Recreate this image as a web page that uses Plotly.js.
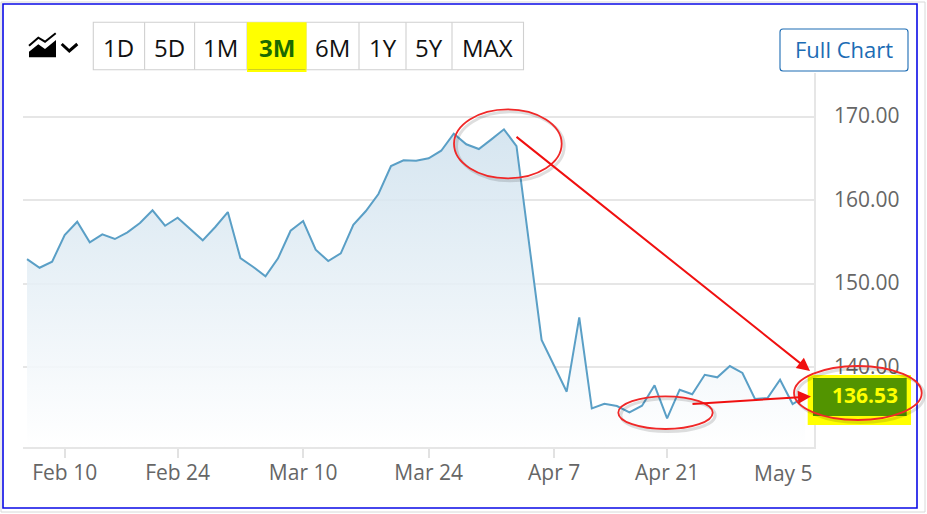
<!DOCTYPE html>
<html>
<head>
<meta charset="utf-8">
<script src="https://cdn.plot.ly/plotly-3.0.1.min.js"></script>
<style>html,body{margin:0;padding:0;background:#fff}#chart{width:927px;height:514px}</style>
</head>
<body>
<div id="chart"></div>
<script>
const dates = ["Feb 5","Feb 6","Feb 7","Feb 10","Feb 11","Feb 12","Feb 13","Feb 14","Feb 18","Feb 19","Feb 20","Feb 21","Feb 24","Feb 25","Feb 26","Feb 27","Feb 28","Mar 3","Mar 4","Mar 5","Mar 6","Mar 7","Mar 10","Mar 11","Mar 12","Mar 13","Mar 14","Mar 17","Mar 18","Mar 19","Mar 20","Mar 21","Mar 24","Mar 25","Mar 26","Mar 27","Mar 28","Mar 31","Apr 1","Apr 2","Apr 3","Apr 4","Apr 7","Apr 8","Apr 9","Apr 10","Apr 11","Apr 14","Apr 15","Apr 16","Apr 17","Apr 21","Apr 22","Apr 23","Apr 24","Apr 25","Apr 28","Apr 29","Apr 30","May 1","May 2","May 5","May 6"];
const prices = [152.96,151.92,152.64,155.84,157.43,154.96,155.92,155.36,156.16,157.27,158.79,156.95,157.91,156.52,155.20,156.80,158.59,153.08,152.04,150.89,153.05,156.35,157.51,154.08,152.72,153.65,157.07,158.71,160.75,164.10,164.78,164.73,165.02,165.93,167.96,166.70,166.13,167.29,168.49,166.49,154.88,143.27,140.18,137.08,145.98,135.09,135.64,135.37,134.61,135.40,137.84,133.89,137.32,136.77,139.11,138.80,140.15,139.32,136.20,136.32,138.51,135.60,136.53];
const xTicks = ["Feb 10","Feb 24","Mar 10","Mar 24","Apr 7","Apr 21"];
const yTicks = [140,150,160,170];
const lastLabel = "136.53";
const rangeButtons = ["1D","5D","1M","3M","6M","1Y","5Y","MAX"];
const activeButton = "3M";

const W = 927, H = 514;
const px = x => x / W, py = y => 1 - y / H;
const buttonEdges = [93.3,144.6,194.6,247,306,359,406,452,523.5];
const FONT = '"Open Sans", sans-serif';
const paper = {xref:'paper', yref:'paper'};

function rect(x0,y0,x1,y1,extra){ return Object.assign({type:'rect',x0:px(x0),x1:px(x1),y0:py(y1),y1:py(y0),layer:'above'},paper,extra); }
function ell(x0,y0,x1,y1,extra){ return Object.assign({type:'circle',x0:px(x0),x1:px(x1),y0:py(y1),y1:py(y0),layer:'above'},paper,extra); }
function poly(pts,close,extra){
  const d = pts.map((p,i)=>(i?'L':'M')+px(p[0]).toFixed(5)+','+py(p[1]).toFixed(5)).join(' ')+(close?' Z':'');
  return Object.assign({type:'path',path:d,layer:'above'},paper,extra);
}
function label(x,y,text,size,color,extra){
  return Object.assign({x:px(x),y:py(y),text:text,showarrow:false,xanchor:'center',yanchor:'middle',
    font:{family:FONT,size:size,color:color}},paper,extra);
}
function arrow(x0,y0,x1,y1){
  return Object.assign({x:px(x1),y:py(y1),ax:x0-x1,ay:y0-y1,text:'',showarrow:true,arrowhead:2,arrowsize:1.3,arrowwidth:2,arrowcolor:'#f01010'},paper);
}

const shapes = [
  // outer frame
  rect(1,2,925,512,{line:{color:'#d8d8d8',width:1},fillcolor:'rgba(0,0,0,0)',layer:'below'}),
  rect(3,4,917,508,{line:{color:'#0a0ae6',width:1.6},fillcolor:'#ffffff',layer:'below'}),
  // chart-type icon
  poly([[29,45.7],[38.3,37.7],[45,41.7],[55.7,33.3]],false,{line:{color:'#000',width:2}}),
  poly([[29,57.3],[29,51.7],[38.3,44.3],[45,49],[56,40],[56,57.3]],true,{fillcolor:'#000',line:{width:0}}),
  poly([[61.7,44],[69.3,51],[77.3,44]],false,{line:{color:'#000',width:3}}),
  // Full Chart button
  {type:'path',xref:'paper',yref:'paper',layer:'above',line:{color:'#1c6cb4',width:1.1},
   path:['M',px(783),py(29),'L',px(905),py(29),'Q',px(908),py(29),px(908),py(32),'L',px(908),py(68),'Q',px(908),py(71),px(905),py(71),'L',px(783),py(71),'Q',px(780),py(71),px(780),py(68),'L',px(780),py(32),'Q',px(780),py(29),px(783),py(29),'Z'].join(' ')},
  // range selector
  rect(buttonEdges[0],22.3,buttonEdges[8],69.7,{line:{color:'#d0d0d0',width:1.1},fillcolor:'rgba(0,0,0,0)'})
];
for (let i=1;i<buttonEdges.length-1;i++){
  shapes.push(poly([[buttonEdges[i],22.3],[buttonEdges[i],69.7]],false,{line:{color:'#d0d0d0',width:1.1}}));
}
shapes.push(rect(247,22.3,306.5,72,{line:{width:0},fillcolor:'#ffff00'}));
shapes.push(poly([[248,69.5],[305.5,69.5]],false,{line:{color:'#cfcf20',width:1}}));
// last price flag
shapes.push(rect(807.7,375,911,425,{line:{width:0},fillcolor:'#ffff00'}));
shapes.push(rect(813,378,906.7,416,{line:{width:0},fillcolor:'#529400'}));
// ellipse shadows then ellipses
const ellipses = [[454,109.3,561.7,178.3],[618.3,396.3,712.7,429],[794,366,921.7,420]];
ellipses.forEach(e=>shapes.push(ell(e[0]+2.5,e[1]+2.5,e[2]+2.5,e[3]+2.5,{line:{color:'rgba(0,0,0,0.13)',width:3}})));
ellipses.forEach(e=>shapes.push(ell(e[0],e[1],e[2],e[3],{line:{color:'#f02828',width:1.8}})));

const annotations = [
  label(844,49.5,'Full Chart',22,'#1c6cb4'),
  label(783.7,472.7,'May 5',21,'#666666'),
  label(900,395,'<b>'+lastLabel+'</b>',21,'#ffff00',{xanchor:'right'}),
  arrow(515,135.7,810,371),
  arrow(691,404,811,396.5)
];
rangeButtons.forEach((b,i)=>{
  const on = b===activeButton;
  annotations.push(label((buttonEdges[i]+buttonEdges[i+1])/2,47,on?'<b>'+b+'</b>':b,24,on?'#1a6a00':'#111111'));
});

const trace = {
  x: dates, y: prices, type:'scatter', mode:'lines',
  line:{color:'#5a9fc6',width:2,shape:'linear'},
  fill:'tozeroy',
  fillgradient:{type:'vertical',start:130.46,stop:170,
    colorscale:[[0,'rgba(255,255,255,0.9)'],[1,'rgba(205,224,237,0.85)']]},
  hoverinfo:'skip'
};

const layout = {
  width:W, height:H, showlegend:false,
  margin:{l:0,r:0,t:0,b:0},
  paper_bgcolor:'#ffffff', plot_bgcolor:'rgba(0,0,0,0)',
  font:{family:FONT,size:21,color:'#666666'},
  xaxis:{domain:[px(23),px(813.7)],type:'category',categoryorder:'array',categoryarray:dates,
    range:[-0.32,62.68],tickmode:'array',tickvals:xTicks,ticktext:xTicks,
    ticks:'outside',ticklen:9,tickwidth:2,tickcolor:'#e2e2e2',
    showgrid:false,showline:true,linecolor:'#e6e6e6',linewidth:2,zeroline:false,
    tickfont:{family:FONT,size:21,color:'#666666'},ticklabelstandoff:-3,fixedrange:true},
  yaxis:{domain:[py(447),py(72.7)],side:'right',range:[130.46,175.27],tickmode:'array',
    tickvals:yTicks,ticktext:yTicks.map(v=>v.toFixed(2)),
    showgrid:true,gridcolor:'#e6e6e6',gridwidth:2,zeroline:false,
    showline:true,linecolor:'#e6e6e6',linewidth:2,ticks:'',ticklabelshift:-1,
    tickfont:{family:FONT,size:21,color:'#666666'},ticklabelstandoff:14,fixedrange:true},
  shapes:shapes, annotations:annotations
};
Plotly.newPlot('chart',[trace],layout,{displayModeBar:false,staticPlot:true});
</script>
</body>
</html>
